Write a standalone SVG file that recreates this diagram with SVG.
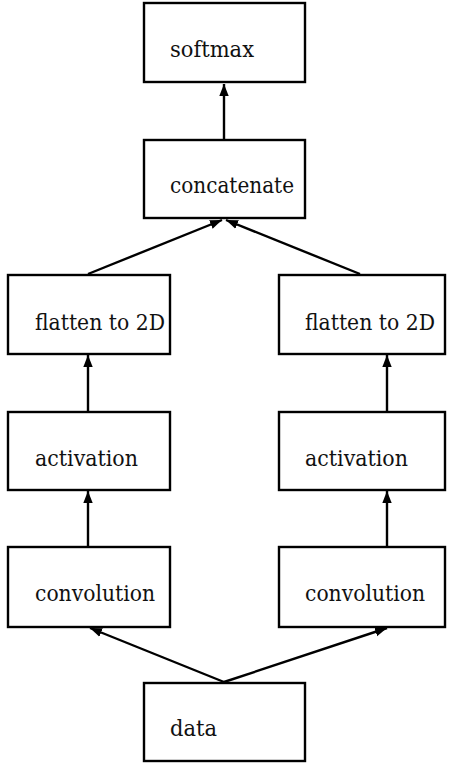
<svg xmlns="http://www.w3.org/2000/svg" width="464" height="763" viewBox="0 0 464 763">
  <style>
    .box { fill: #ffffff; stroke: #000000; stroke-width: 2.4; }
    .lbl { font-family: "DejaVu Serif", serif; font-size: 23px; fill: #111111; }
    .edge { fill: none; stroke: #000000; stroke-width: 2.4; marker-end: url(#tip); }
  </style>
  <defs>
    <marker id="tip" markerUnits="userSpaceOnUse" markerWidth="13" markerHeight="11" refX="12" refY="5.5" orient="auto">
      <path d="M0,0.8 L12,5.5 L0,10.2 Z" fill="#000000"/>
    </marker>
  </defs>
  <rect width="464" height="763" fill="#ffffff"/>

  <g id="softmax">
    <rect class="box" x="144" y="3" width="161" height="79"/>
    <text class="lbl" x="170" y="57" textLength="84" lengthAdjust="spacingAndGlyphs">softmax</text>
  </g>
  <g id="concatenate">
    <rect class="box" x="144" y="140" width="161" height="78"/>
    <text class="lbl" x="170" y="193" textLength="124" lengthAdjust="spacingAndGlyphs">concatenate</text>
  </g>
  <g id="flatten-left">
    <rect class="box" x="8" y="275" width="162" height="79"/>
    <text class="lbl" x="35" y="330" textLength="130" lengthAdjust="spacingAndGlyphs">flatten to 2D</text>
  </g>
  <g id="flatten-right">
    <rect class="box" x="279" y="275" width="166" height="79"/>
    <text class="lbl" x="305" y="330" textLength="130" lengthAdjust="spacingAndGlyphs">flatten to 2D</text>
  </g>
  <g id="activation-left">
    <rect class="box" x="8" y="412" width="162" height="78"/>
    <text class="lbl" x="35" y="466" textLength="103" lengthAdjust="spacingAndGlyphs">activation</text>
  </g>
  <g id="activation-right">
    <rect class="box" x="279" y="412" width="166" height="78"/>
    <text class="lbl" x="305" y="466" textLength="103" lengthAdjust="spacingAndGlyphs">activation</text>
  </g>
  <g id="convolution-left">
    <rect class="box" x="8" y="547" width="162" height="80"/>
    <text class="lbl" x="35" y="601" textLength="120" lengthAdjust="spacingAndGlyphs">convolution</text>
  </g>
  <g id="convolution-right">
    <rect class="box" x="279" y="547" width="166" height="80"/>
    <text class="lbl" x="305" y="601" textLength="120" lengthAdjust="spacingAndGlyphs">convolution</text>
  </g>
  <g id="data">
    <rect class="box" x="144" y="683" width="161" height="78"/>
    <text class="lbl" x="170" y="736" textLength="47" lengthAdjust="spacingAndGlyphs">data</text>
  </g>

  <g id="connectors">
    <line class="edge" x1="224" y1="139" x2="224" y2="84"/>
    <line class="edge" x1="88" y1="274" x2="222" y2="220"/>
    <line class="edge" x1="360" y1="274" x2="226" y2="220"/>
    <line class="edge" x1="88" y1="411" x2="88" y2="355"/>
    <line class="edge" x1="387" y1="411" x2="387" y2="355"/>
    <line class="edge" x1="88" y1="546" x2="88" y2="491"/>
    <line class="edge" x1="387" y1="546" x2="387" y2="491"/>
    <line class="edge" x1="224" y1="682" x2="90" y2="628"/>
    <line class="edge" x1="224" y1="682" x2="387" y2="628"/>
  </g>
</svg>
